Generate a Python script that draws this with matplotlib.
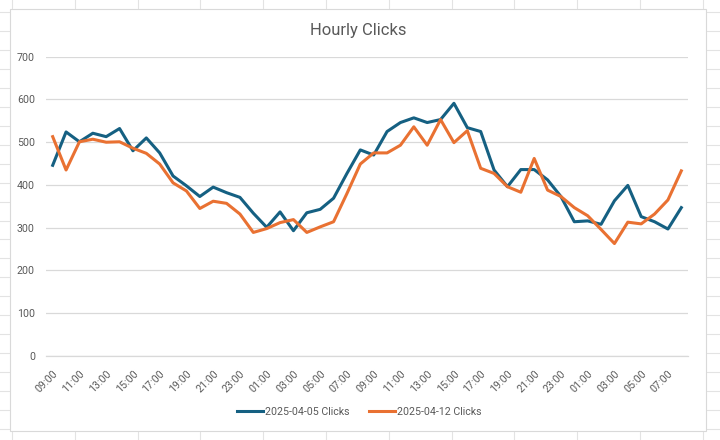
import numpy as np
import matplotlib
matplotlib.use("Agg")
import matplotlib.pyplot as plt
from matplotlib.lines import Line2D
from matplotlib.patches import Rectangle

plt.rcParams["font.family"] = ["Roboto", "DejaVu Sans"]

# hourly categories, 09:00 on day one through 08:00 two days later
hours = [f"{(9 + i) % 24:02d}:00" for i in range(48)]

clicks_0405 = [446, 524, 501, 521, 513, 532, 480, 510, 475, 421,
               398, 373, 395, 382, 371, 334, 301, 337, 293, 335,
               343, 369, 427, 482, 470, 525, 546, 557, 546, 553,
               591, 534, 525, 435, 396, 436, 436, 412, 373, 314,
               316, 308, 363, 399, 326, 314, 297, 347]

clicks_0412 = [513, 435, 501, 507, 500, 501, 486, 474, 449, 405,
               386, 345, 362, 357, 332, 289, 298, 312, 319, 289,
               302, 314, 380, 449, 475, 475, 493, 536, 493, 553,
               499, 527, 439, 427, 396, 383, 462, 388, 373, 347,
               328, 296, 263, 313, 309, 332, 365, 433]

series_names = ["2025-04-05 Clicks", "2025-04-12 Clicks"]
series_colors = ["#156082", "#E97132"]
text_color = "#595959"
grid_color = "#d9d9d9"

W, H = 720, 440
fig = plt.figure(figsize=(W / 100, H / 100), dpi=100)
fig.patch.set_facecolor("white")


def fx(px):
    return px / W


def fy(py):
    return 1 - py / H


# spreadsheet cells behind the chart
for k in range(12):
    x = 12 + 62.8 * k
    fig.add_artist(Line2D([fx(x), fx(x)], [0, 1], color="#e3e3e3", lw=0.8, zorder=0))
for k in range(24):
    y = 12.3 + 18.93 * k
    fig.add_artist(Line2D([0, 1], [fy(y), fy(y)], color="#e3e3e3", lw=0.8, zorder=0))

# chart area
fig.add_artist(Rectangle((fx(9.5), fy(430.5)), fx(706) - fx(9.5), fy(9.5) - fy(430.5),
                         facecolor="white", edgecolor=grid_color, lw=0.8, zorder=1))

ax = fig.add_axes([fx(46), fy(356), fx(688) - fx(46), fy(56.7) - fy(356)])
ax.set_zorder(2)
ax.patch.set_alpha(0)

x = np.arange(len(hours))
ax.plot(x, clicks_0405, color=series_colors[0], lw=2.2, label=series_names[0],
        solid_joinstyle="round", zorder=3)
ax.plot(x, clicks_0412, color=series_colors[1], lw=2.2, label=series_names[1],
        solid_joinstyle="round", zorder=4)

ax.set_xlim(-0.5, len(hours) - 0.5)
ax.set_ylim(0, 700)
ax.set_yticks(range(0, 701, 100))
ax.yaxis.grid(True, color=grid_color, lw=0.9)
ax.set_axisbelow(True)
for s in ax.spines.values():
    s.set_visible(False)
ax.spines["bottom"].set_visible(True)
ax.spines["bottom"].set_color(grid_color)
ax.spines["bottom"].set_linewidth(0.9)

ax.set_xticks(x[::2])
ax.set_xticklabels(hours[::2], rotation=45, ha="right", va="top",
                   rotation_mode="anchor")
ax.tick_params(axis="both", length=0, labelsize=7.7, labelcolor=text_color)
ax.tick_params(axis="y", pad=8)
ax.tick_params(axis="x", pad=9)

fig.text(fx(358), fy(30), "Hourly Clicks", ha="center", va="center",
         fontsize=12, color=text_color)

fig.legend(loc="center", bbox_to_anchor=(fx(359), fy(411.5)), ncol=2,
           frameon=False, fontsize=7.7, labelcolor=text_color,
           handlelength=2.5, handletextpad=0.15, columnspacing=1.8)

fig.savefig("out.png", dpi=100)
